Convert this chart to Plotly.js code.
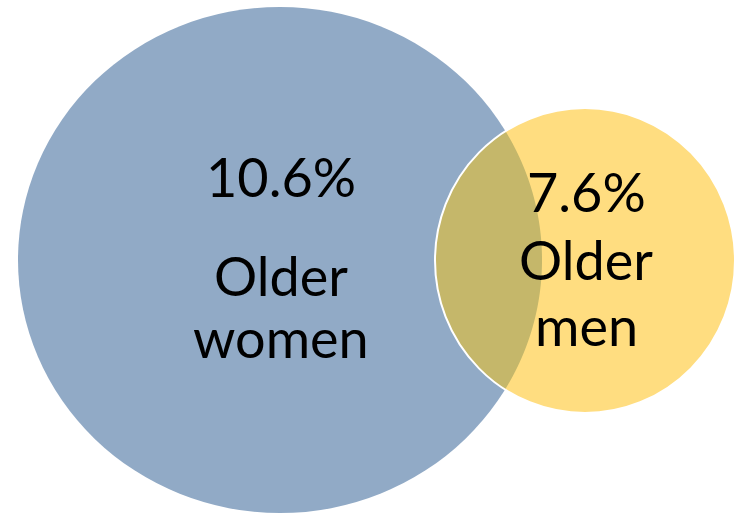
<!DOCTYPE html>
<html>
<head>
<meta charset="utf-8">
<script src="https://cdn.plot.ly/plotly-3.0.1.min.js"></script>
<style>html,body{margin:0;padding:0;background:#fff}#chart{width:735px;height:514px}</style>
</head>
<body>
<div id="chart"></div>
<script>
// ---- data ----
const groups = ["Older women", "Older men"];
const shares = [10.6, 7.6];           // percent
const labelLines = [["Older", "women"], ["Older", "men"]];

// ---- layout constants (pixel-space data coordinates) ----
const circles = [
  {cx: 280, cy: 260, rx: 262, ry: 253, fill: "#91AAC6"},
  {cx: 585, cy: 260.5, rx: 150, ry: 152.5, fill: "#FFDD80"}
];
const overlapFill = "#C5B76A";
const fontFam = "Lato, 'Open Sans', sans-serif";
const fontSize = 54;
const textPos = [
  {x: 281, pct: 176, lines: [275, 337]},
  {x: 586, pct: 191, lines: [259, 325]}
];

function inside(c, x, y) {
  const dx = (x - c.cx) / c.rx, dy = (y - c.cy) / c.ry;
  return dx * dx + dy * dy <= 1;
}
function ellipseShape(c, fill, line) {
  return {type: "circle", xref: "x", yref: "y",
    x0: c.cx - c.rx, x1: c.cx + c.rx, y0: c.cy - c.ry, y1: c.cy + c.ry,
    fillcolor: fill, line: line, layer: "above"};
}
// lens polygon
const N = 2000;
const lx = [], ly = [];
const A = circles[0], B = circles[1];
for (let i = 0; i <= N; i++) {
  const t = Math.PI / 2 + Math.PI * i / N; // left half of small ellipse
  const x = B.cx + B.rx * Math.cos(t), y = B.cy + B.ry * Math.sin(t);
  if (inside(A, x, y)) { lx.push(x); ly.push(y); }
}
for (let i = 0; i <= N; i++) {
  const t = -Math.PI / 2 + Math.PI * i / N; // right half of big ellipse
  const x = A.cx + A.rx * Math.cos(t), y = A.cy + A.ry * Math.sin(t);
  if (inside(B, x, y)) { lx.push(x); ly.push(y); }
}
let path = "M" + lx[0] + "," + ly[0];
for (let i = 1; i < lx.length; i++) path += "L" + lx[i].toFixed(2) + "," + ly[i].toFixed(2);
path += "Z";

const shapes = [
  ellipseShape(A, A.fill, {width: 0}),
  ellipseShape(B, B.fill, {width: 0}),
  {type: "path", xref: "x", yref: "y", path: path, fillcolor: overlapFill, line: {width: 0}, layer: "above"},
  ellipseShape(B, "rgba(0,0,0,0)", {color: "#FFFFFF", width: 2})
];

const annotations = [];
groups.forEach((g, i) => {
  const p = textPos[i];
  annotations.push({x: p.x, y: p.pct, xref: "x", yref: "y", text: shares[i].toFixed(1) + "%",
    showarrow: false, xanchor: "center", yanchor: "middle",
    font: {family: fontFam, size: fontSize, color: "#000"}});
  labelLines[i].forEach((ln, j) => {
    annotations.push({x: p.x, y: p.lines[j], xref: "x", yref: "y", text: ln,
      showarrow: false, xanchor: "center", yanchor: "middle",
      font: {family: fontFam, size: fontSize, color: "#000"}});
  });
});

const layout = {
  width: 735, height: 514,
  margin: {l: 0, r: 0, t: 0, b: 0},
  paper_bgcolor: "#fff", plot_bgcolor: "#fff",
  xaxis: {range: [0, 735], visible: false, fixedrange: true},
  yaxis: {range: [514, 0], visible: false, fixedrange: true},
  showlegend: false,
  shapes: shapes,
  annotations: annotations
};
Plotly.newPlot("chart", [{x: [], y: [], type: "scatter", mode: "markers", hoverinfo: "skip"}], layout, {staticPlot: true, displayModeBar: false});
</script>
</body>
</html>
